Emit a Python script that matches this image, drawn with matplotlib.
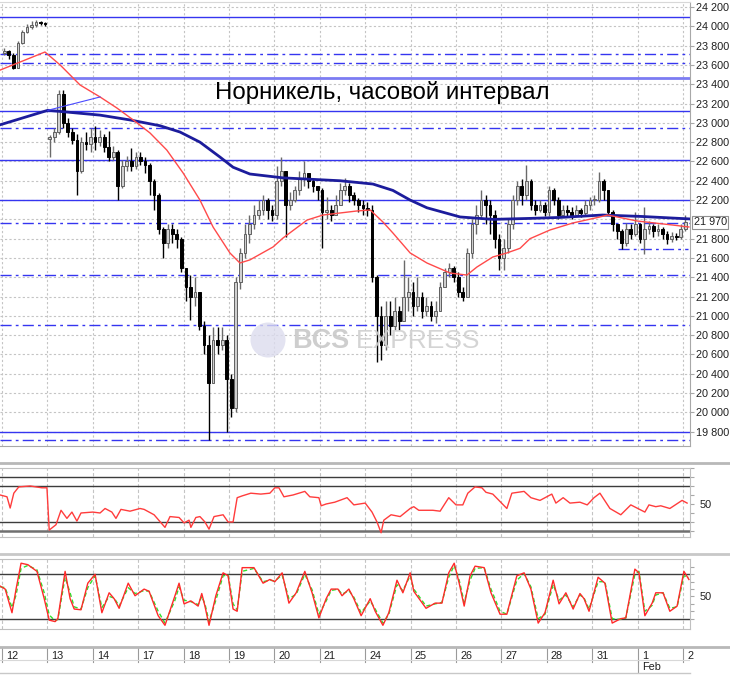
import numpy as np
import matplotlib
matplotlib.use("Agg")
import matplotlib.pyplot as plt
import matplotlib.transforms as mtransforms
from matplotlib.patches import Ellipse
from matplotlib.lines import Line2D

# hourly candles, 10 per trading day
day_labels = ['12', '13', '14', '17', '18', '19', '20', '21', '24', '25', '26', '27', '28', '31', '1', '2']

closes = [
    23740, 23700, 23570, 23830, 23940, 23990, 24010, 24040, 24030, 24020,
    22850, 22900, 23300, 23000, 22900, 22820, 22500, 22800, 22780, 22850,
    22800, 22850, 22750, 22650, 22700, 22350, 22550, 22600, 22550, 22650,
    22600, 22560, 22400, 22250, 21900, 21750, 21900, 21850, 21800, 21500,
    21300, 21200, 21250, 20900, 20700, 20300, 20750, 20700, 20750, 20350,
    20050, 21350, 21650, 21850, 21950, 22050, 22100, 22200, 22100, 22050,
    22400, 22500, 22150, 22200, 22300, 22420, 22480, 22400, 22350, 22300,
    22080, 22100, 22050, 22150, 22300, 22350, 22250, 22200, 22150, 22120,
    22100, 21400, 21000, 20700, 21000, 20900, 21050, 20950, 21200, 21250,
    21100, 21200, 21050, 21100, 21000, 21050, 21300, 21450, 21500, 21400,
    21250, 21200, 21650, 21950, 22050, 22200, 22150, 22050, 21800, 21600,
    21700, 21950, 22200, 22350, 22250, 22400, 22150, 22100, 22150, 22080,
    22300, 22200, 22050, 22100, 22080, 22050, 22100, 22070, 22150, 22200,
    22200, 22400, 22300, 22080, 21950, 21880, 21750, 21900, 21850, 21950,
    21800, 21900, 21930, 21880, 21900, 21850, 21800, 21830, 21820, 21900,
    21970,
]
highs = [
    23780, 23750, 23720, 23850, 23960, 24020, 24060, 24070, 24060, 24040,
    22870, 22950, 23340, 23340, 23050, 22950, 22880, 22850, 22900, 22950,
    22970, 22930, 22880, 22920, 22760, 22720, 22620, 22660, 22740, 22700,
    22700, 22650, 22580, 22420, 22270, 21920, 21950, 21950, 21900, 21820,
    21500, 21420, 21400, 21250, 20950, 20800, 20880, 20890, 20880, 20800,
    20400, 21400, 21700, 21950, 22050, 22150, 22200, 22250, 22220, 22150,
    22550, 22650, 22500, 22280, 22350, 22500, 22600, 22480, 22420, 22350,
    22320, 22230, 22150, 22250, 22380, 22430, 22380, 22280, 22220, 22200,
    22180, 22150, 21420, 21100, 21150, 21150, 21200, 21100, 21580, 21400,
    21350, 21400, 21250, 21200, 21150, 21150, 21350, 21500, 21550, 21520,
    21450, 21300, 21700, 22000, 22150, 22300, 22250, 22200, 22100, 21850,
    21800, 22000, 22250, 22400, 22420, 22560, 22420, 22200, 22200, 22180,
    22350, 22330, 22230, 22150, 22150, 22130, 22150, 22120, 22200, 22230,
    22250, 22490, 22420, 22300, 22100, 21950, 21900, 21960, 21950, 22080,
    21960, 22130, 21980, 21950, 21950, 21920, 21880, 21870, 21860, 21950,
    22050,
]
lows = [
    23700, 23660, 23560, 23570, 23820, 23930, 23970, 23990, 24010, 24000,
    22650, 22800, 22880, 22950, 22850, 22780, 22250, 22480, 22720, 22700,
    22720, 22760, 22700, 22600, 22620, 22200, 22320, 22500, 22500, 22520,
    22560, 22480, 22250, 22100, 21850, 21600, 21700, 21750, 21700, 21450,
    21150, 20960, 21100, 20850, 20600, 19710, 20300, 20600, 20650, 19800,
    19950, 20000, 21280, 21600, 21750, 21900, 22000, 22050, 22000, 21980,
    22000, 22350, 21820, 22100, 22180, 22250, 22350, 22330, 22280, 22200,
    21700, 22000, 21980, 22050, 22150, 22250, 22180, 22150, 22080, 22050,
    22030, 21350, 20520, 20540, 20650, 20800, 20850, 20850, 20950, 21050,
    21000, 21050, 20980, 21000, 20950, 20930, 21050, 21300, 21400, 21350,
    21200, 21150, 21200, 21600, 21850, 22000, 21950, 21850, 21700, 21480,
    21480, 21650, 21900, 22150, 22150, 22200, 22100, 22050, 22080, 22040,
    22040, 22150, 22000, 22020, 22030, 22000, 22030, 22020, 22050, 22100,
    22150, 22180, 22200, 22050, 21880, 21800, 21690, 21720, 21800, 21830,
    21760, 21640, 21850, 21820, 21830, 21800, 21740, 21770, 21790, 21800,
    21880,
]
first_open = 23720
gap_open = 22830   # open of the first candle on the 13th

# moving averages (x in candle index)
ma_slow_x = [-0.9, 9.6, 21.1, 27.7, 34.3, 38.7, 43.1, 47.5, 50.4, 54.1, 61.4,
             74.0, 81.2, 85.6, 89.4, 93.1, 100.4, 107.6, 115.8, 122.4, 131.8, 140.4, 150.8]
ma_slow = [22980, 23130, 23080, 23030, 22970, 22905, 22800, 22646, 22540, 22470, 22430,
           22400, 22366, 22300, 22200, 22120, 22025, 22000, 22010, 22020, 22045, 22030, 22005]
ma_fast_x = [-0.9, 8.97, 12.3, 16.7, 21.1, 24.8, 28.4, 32.1, 35.8, 39.4, 43.1, 46.0, 49.7,
             51.9, 54.1, 59.2, 61.4, 66.7, 70.2, 77.7, 80.6, 83.4, 85.6, 89.4, 93.1, 98.2,
             101.9, 104.1, 107.6, 110.7, 113.6, 115.8, 120.2, 125.2, 131.2, 132.9, 139.4,
             147.1, 150.8]
ma_fast = [23547, 23734, 23600, 23392, 23268, 23154, 23030, 22895, 22718, 22480, 22200, 21920,
           21652, 21548, 21580, 21714, 21807, 21993, 22045, 22087, 22097, 21973, 21859, 21652,
           21548, 21444, 21423, 21506, 21610, 21652, 21700, 21800, 21890, 21962, 22025, 22045,
           21983, 21942, 21921]
trend_x = [9.6, 21.1]
trend_y = [23130, 23268]

# support / resistance levels
level_price = [24100, 23710, 23620, 23460, 23120, 22950, 22610, 22200, 21960, 21690,
               21420, 20910, 19800, 19710]
level_style = ['solid', 'dashdot', 'dashdot', 'thick', 'solid', 'dashdot', 'solid', 'solid',
               'dashdot', 'dashdot', 'dashdot', 'dashdot', 'solid', 'dashdot']
level_from = [None] * 9 + [135.2] + [None] * 4
last_price = 21970

rsi_x = [-0.9, 0.6, 1.3, 2.1, 3.2, 5.7, 8.3, 9.4, 9.9, 11.4, 12.5, 13.8, 14.9, 16.0, 16.9,
         19.5, 21.1, 22.2, 23.7, 24.6, 25.7, 27.7, 29.9, 30.8, 33.0, 35.4, 36.5, 38.5, 39.6,
         40.7, 41.1, 42.2, 43.1, 44.2, 45.1, 46.2, 48.2, 49.3, 50.4, 51.3, 52.4, 54.3, 56.5,
         58.5, 59.6, 60.5, 61.6, 63.6, 66.2, 67.3, 69.3, 69.8, 70.9, 72.8, 75.5, 77.0, 79.5,
         81.0, 82.1, 83.0, 83.6, 85.2, 87.2, 89.4, 90.2, 91.3, 94.4, 96.0, 97.9, 99.5, 101.0,
         102.1, 103.7, 105.2, 106.1, 107.6, 110.7, 111.8, 114.5, 116.0, 118.0, 120.6, 121.5,
         123.1, 124.6, 126.8, 128.4, 129.9, 131.2, 133.4, 135.8, 138.0, 141.1, 142.0, 143.5,
         144.6, 146.6, 149.3, 150.4]
rsi = [60, 58, 45.5, 62, 69, 70, 68, 68, 21, 27, 43, 34, 41, 31, 40,
       41, 40, 45, 41, 34, 44, 42, 45, 44, 38, 24, 36, 35, 29,
       32, 24, 35, 36, 30, 22, 36, 38, 30, 30, 57, 59, 62, 61,
       62, 68, 68, 58, 60, 64, 58, 57, 48, 50, 52, 57, 49, 51,
       41, 30, 18, 32, 38, 36, 45, 47, 43, 43, 42, 57, 49, 49,
       62, 69, 68, 63, 61, 45, 62, 64, 57, 54, 61, 51,
       57, 51, 52, 49, 57, 62, 45, 38, 49, 41, 49, 47,
       48, 45, 54, 51]

stoch_x = [-0.9, 0.2, 1.7, 2.6, 3.7, 5.2, 7.2, 8.8, 9.9, 11.2, 11.8, 13.4, 14.5, 15.4, 16.9,
           18.4, 20.0, 21.5, 23.1, 24.2, 25.3, 27.3, 28.8, 30.8, 31.9, 33.9, 35.4, 37.6, 38.5,
           39.6, 41.1, 42.7, 43.5, 44.2, 45.1, 46.6, 48.2, 49.3, 50.4, 51.3, 52.4, 55.0, 57.0,
           58.5, 59.6, 61.2, 62.7, 64.3, 66.2, 67.8, 69.3, 70.9, 72.0, 73.5, 74.4, 75.9, 77.0,
           78.6, 80.6, 81.7, 83.4, 84.7, 86.5, 87.8, 89.4, 90.2, 92.9, 94.9, 96.4, 97.9, 99.1,
           100.2, 101.3, 102.6, 103.7, 105.7, 107.2, 109.2, 110.7, 112.9, 114.5, 116.0, 117.6,
           119.1, 120.9, 122.2, 123.7, 125.3, 126.8, 127.7, 128.8, 130.8, 132.3, 133.9, 135.8,
           136.9, 138.9, 139.8, 141.1, 142.7, 143.5, 145.1, 146.6, 148.2, 149.7, 150.8]
stoch_k = [64, 60, 28, 60, 95, 93, 84, 47, 18, 16, 20, 84, 47, 33, 32,
           68, 80, 28, 55, 47, 34, 68, 51, 60, 57, 24, 11, 51, 68,
           40, 44, 37, 54, 37, 11, 51, 82, 78, 33, 30, 89, 89, 68,
           73, 70, 82, 41, 55, 84, 55, 21, 47, 60, 60, 51, 60, 47,
           24, 47, 30, 11, 28, 72, 55, 82, 57, 34, 41, 41, 82, 95,
           68, 37, 78, 91, 89, 55, 26, 26, 78, 82, 60, 14,
           28, 72, 40, 55, 33, 54, 47, 30, 76, 68, 14, 20,
           21, 87, 82, 24, 41, 55, 55, 30, 37, 84, 73]
stoch_d = [63, 62, 35, 52, 88, 92, 86, 55, 25, 17, 19, 76, 55, 36, 33,
           62, 78, 35, 50, 48, 37, 62, 54, 58, 57, 30, 14, 45, 63,
           45, 43, 39, 50, 40, 16, 45, 78, 79, 40, 32, 84, 88, 70,
           72, 71, 79, 47, 53, 80, 59, 26, 44, 58, 60, 53, 58, 49,
           28, 44, 33, 14, 26, 66, 58, 78, 60, 37, 40, 42, 76, 92,
           72, 42, 72, 88, 89, 60, 30, 26, 72, 81, 63, 20,
           26, 66, 45, 52, 36, 52, 48, 33, 70, 70, 20, 19,
           21, 80, 84, 30, 38, 52, 55, 34, 36, 78, 76]

W, H = 730, 675
fig = plt.figure(figsize=(W / 100, H / 100), dpi=100)


def px_axes(x0, y0, x1, y1):
    return fig.add_axes([x0 / W, 1 - y1 / H, (x1 - x0) / W, (y1 - y0) / H])


ax = px_axes(0, 2, 690, 446)
rsi_ax = px_axes(0, 468, 690, 537)
st_ax = px_axes(0, 559, 690, 629)
date_ax = px_axes(0, 647, 690, 673)

XMIN, XMAX = -0.94, 151.04
day_edges = np.arange(len(day_labels)) * 10 - 0.5
GRID = '#c4c4c4'
BORDER = '#a8a8a8'
LEVEL = '#3535f0'
TICKFONT = dict(fontsize=7.8, family='Liberation Sans', color='#202020')

# ---- price panel
c = np.array(closes, float)
h = np.array(highs, float)
l = np.array(lows, float)
o = np.r_[first_open, c[:-1]]
o[10] = gap_open
h = np.maximum(h, np.maximum(o, c))
l = np.minimum(l, np.minimum(o, c))
xi = np.arange(len(c))
up = c >= o
bottom = np.minimum(o, c)
height = np.maximum(np.abs(c - o), 12)

for p in range(19800, 24201, 200):
    ax.axhline(p, color=GRID, lw=0.8, ls=(0, (2, 2)), zorder=0)
for e in day_edges:
    ax.axvline(e, color=GRID, lw=0.8, ls=(0, (2, 2)), zorder=0)

for p, st, x0 in zip(level_price, level_style, level_from):
    kw = dict(color=LEVEL, lw=1.0, zorder=1)
    if st == 'dashdot':
        kw['ls'] = (0, (8, 3, 2, 3))
    elif st == 'thick':
        kw.update(color='#7c7cf2', lw=2.0)
    if x0 is None:
        ax.axhline(p, **kw)
    else:
        ax.plot([x0, len(c) - 0.5], [p, p], **kw)

ax.vlines(xi[up], l[up], h[up], color='#6a6a6a', lw=1, zorder=2)
ax.vlines(xi[~up], l[~up], h[~up], color='#000000', lw=1, zorder=2)
ax.bar(xi[up], height[up], bottom=bottom[up], width=0.6, color='#cfcfcf',
       edgecolor='#606060', lw=0.7, zorder=3)
ax.bar(xi[~up], height[~up], bottom=bottom[~up], width=0.6, color='#000000',
       edgecolor='#000000', lw=0.7, zorder=3)

ax.plot(ma_slow_x, ma_slow, color='#1c1c9c', lw=2.0, zorder=4)
ax.plot(ma_fast_x, ma_fast, color='#ff4a4a', lw=1.0, zorder=4)
ax.plot(trend_x, trend_y, color='#4a4aff', lw=0.8, zorder=4)

ax.set_xlim(XMIN, XMAX)
ax.set_ylim(19652, 24252)
ax.set_xticks([])
yt = [v for v in range(19800, 24201, 200) if v != 22000]
ax.set_yticks(yt)
ax.set_yticklabels([f"{v:,}".replace(',', ' ') for v in yt], **TICKFONT)
ax.yaxis.tick_right()
ax.tick_params(axis='y', length=3, width=0.8, color=BORDER, pad=1.5)
ax.spines['left'].set_visible(False)
for s in ['right', 'bottom']:
    ax.spines[s].set_color(BORDER)
ax.spines['top'].set_color('#d8d8d8')

tr = mtransforms.blended_transform_factory(ax.transAxes, ax.transData)
ax.text(1.0055, last_price, f"{last_price:,}".replace(',', ' '), transform=tr,
        va='center', ha='left', **TICKFONT,
        bbox=dict(boxstyle='square,pad=0.12', fc='white', ec='#909090', lw=0.8))

fig.text(215 / W, 1 - 93 / H, 'Норникель, часовой интервал', fontsize=17.3,
         family='Liberation Sans', va='center', ha='left', color='#000000')

# watermark
fig.patches.append(Ellipse((268 / W, 1 - 340 / H), 35 / W, 35 / H, transform=fig.transFigure,
                           fc='#dcdcee', ec='none', alpha=0.8))
fig.text(292 / W, 1 - 341 / H, 'BCS', fontsize=19.5, fontweight='bold', family='Liberation Sans',
         color='#c9c9c9', va='center', ha='left', alpha=0.9)
fig.text(356 / W, 1 - 341 / H, 'EXPRESS', fontsize=19, family='Liberation Sans',
         color='#d0d0d0', va='center', ha='left', alpha=0.9)

# ---- indicator panels
for pax, ylim, lines in [(rsi_ax, (13.3, 90), [(80, 1.0), (70, 1.0), (30, 1.0), (20, 1.8)]),
                         (st_ax, (6, 100.7), [(80, 1.0), (20, 1.0)])]:
    for e in day_edges:
        pax.axvline(e, color=GRID, lw=0.8, ls=(0, (3, 2)), zorder=0)
    for v, w in lines:
        pax.axhline(v, color='#3c3c3c' if w < 1.5 else '#707070', lw=w, zorder=1)
    pax.set_xlim(XMIN, XMAX)
    pax.set_ylim(*ylim)
    pax.set_xticks([])
    t = list(range(20, 91, 10))
    pax.set_yticks(t)
    pax.set_yticklabels(['50' if v == 50 else '' for v in t], **TICKFONT)
    pax.yaxis.tick_right()
    pax.tick_params(axis='y', length=3, width=0.8, color=BORDER, pad=4)
    pax.spines['left'].set_visible(False)
    for s in ['right', 'bottom', 'top']:
        pax.spines[s].set_color('#c0c0c0')

rsi_ax.plot(rsi_x, rsi, color='#ff3c3c', lw=1.0, zorder=3)
st_ax.plot(stoch_x, stoch_d, color='#2ee02e', lw=1.0, ls=(0, (3, 2)), zorder=3)
st_ax.plot(stoch_x, stoch_k, color='#ff2a2a', lw=1.0, zorder=4)

# ---- date axis
date_ax.set_xlim(XMIN, XMAX)
date_ax.set_ylim(0, 26)
date_ax.axis('off')
for e, lab in zip(day_edges, day_labels):
    date_ax.plot([e, e], [26, 11], color='#9a9a9a', lw=0.8)
    date_ax.text(e + 0.9, 17, lab, ha='left', va='center', **TICKFONT)
feb_edge = day_edges[day_labels.index('1')]
date_ax.plot([feb_edge, feb_edge], [13, 0], color='#9a9a9a', lw=0.8)
date_ax.text(feb_edge + 0.9, 6, 'Feb', ha='left', va='center', **TICKFONT)
date_ax.plot([XMIN, XMAX], [13, 13], color='#d8d8d8', lw=0.8)

# panel separators
for yy, col, w in [(463, '#b8b8b8', 2.0), (554, '#c8c8c8', 2.0), (647, '#b8b8b8', 2.0),
                   (673, '#c8c8c8', 1.0)]:
    fig.lines.append(Line2D([0, 1 if yy < 670 else 690 / W], [1 - yy / H] * 2,
                            transform=fig.transFigure, color=col, lw=w))

fig.savefig('out.png', dpi=100)
